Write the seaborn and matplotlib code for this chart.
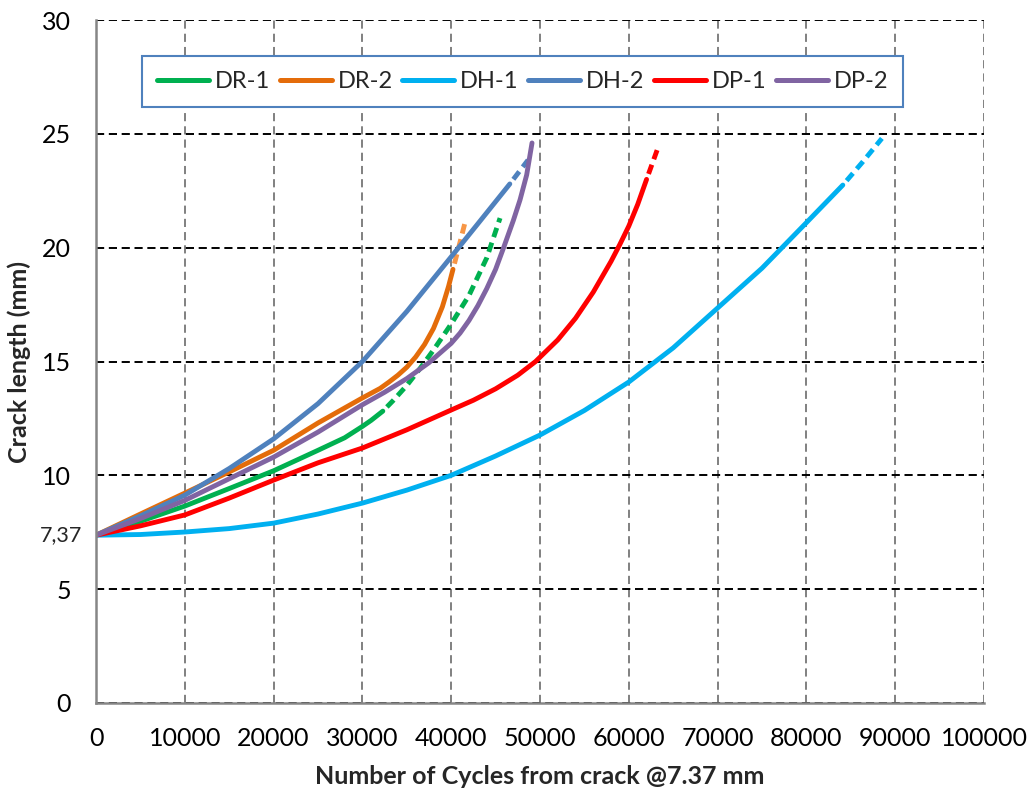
import numpy as np
import pandas as pd
import matplotlib
matplotlib.use('Agg')
import matplotlib.pyplot as plt
from matplotlib.lines import Line2D
from matplotlib.ticker import MultipleLocator
import seaborn as sns

# Crack growth curves (cycles from crack @7.37 mm, crack length mm)
# solid = measured, dashed = extrapolated tail
dr1_x = [0, 5000, 10000, 15000, 20000, 25000, 28000, 30000, 31000, 32300]
dr1_y = [7.37, 7.98, 8.65, 9.42, 10.2, 11.1, 11.65, 12.15, 12.42, 12.82]
dr1_ext_x = [32300, 33500, 35000, 36500, 38000, 40000, 42000, 44000, 45500]
dr1_ext_y = [12.82, 13.3, 13.95, 14.7, 15.5, 16.65, 17.9, 19.55, 21.3]

dr2_x = [0, 5000, 10000, 15000, 20000, 25000, 30000, 32000, 33000, 34000, 35000,
         36000, 37000, 38000, 39000, 39700, 40200]
dr2_y = [7.37, 8.3, 9.22, 10.15, 11.1, 12.3, 13.4, 13.82, 14.1, 14.4, 14.75,
         15.2, 15.75, 16.45, 17.4, 18.3, 19.05]
dr2_ext_x = [40200, 40900, 41650]
dr2_ext_y = [19.05, 20.1, 21.25]

dh1_x = [0, 5000, 10000, 15000, 20000, 25000, 30000, 35000, 40000, 45000, 50000,
         55000, 60000, 65000, 70000, 75000, 80000, 84100]
dh1_y = [7.37, 7.4, 7.51, 7.66, 7.9, 8.3, 8.78, 9.35, 10.0, 10.85, 11.77,
         12.85, 14.1, 15.6, 17.35, 19.1, 21.1, 22.75]
dh1_ext_x = [84100, 86300, 88500]
dh1_ext_y = [22.75, 23.75, 24.8]

dh2_x = [0, 5000, 10000, 15000, 20000, 25000, 30000, 35000, 40000, 43000, 46600]
dh2_y = [7.37, 8.22, 9.13, 10.3, 11.6, 13.15, 15.0, 17.2, 19.6, 21.05, 22.8]
dh2_ext_x = [46600, 48650]
dh2_ext_y = [22.8, 23.85]

dp1_x = [0, 5000, 10000, 15000, 20000, 25000, 30000, 35000, 40000, 42500, 45000,
         47500, 49500, 52000, 54000, 56000, 58000, 59000, 60000, 61000, 62000]
dp1_y = [7.37, 7.78, 8.26, 9.0, 9.79, 10.55, 11.2, 12.0, 12.87, 13.3, 13.8,
         14.4, 15.0, 15.95, 16.9, 18.05, 19.4, 20.15, 20.95, 21.9, 23.0]
dp1_ext_x = [62000, 62600, 63200]
dp1_ext_y = [23.0, 23.65, 24.3]

dp2_x = [0, 5000, 10000, 15000, 20000, 25000, 30000, 32500, 35000, 37500, 40000,
         41000, 42000, 43000, 44000, 45000, 45900, 47000, 47750, 48500, 49100]
dp2_y = [7.37, 8.1, 8.9, 9.85, 10.8, 11.9, 13.1, 13.65, 14.25, 14.95, 15.8,
         16.25, 16.8, 17.45, 18.2, 19.05, 20.0, 21.2, 22.1, 23.2, 24.6]

names = ['DR-1', 'DR-2', 'DH-1', 'DH-2', 'DP-1', 'DP-2']
colors = ['#00B050', '#E46C0A', '#00B0F0', '#4F81BD', '#FF0000', '#8064A2']
ext_colors = ['#00B050', '#F79646', '#00B0F0', '#4F81BD', '#FF0000', '#8064A2']

y_ticks = [0, 5, 10, 15, 20, 25, 30]
crack_start = 7.37
crack_start_label = '7,37'

solid = {'DR-1': (dr1_x, dr1_y), 'DR-2': (dr2_x, dr2_y), 'DH-1': (dh1_x, dh1_y),
         'DH-2': (dh2_x, dh2_y), 'DP-1': (dp1_x, dp1_y), 'DP-2': (dp2_x, dp2_y)}
ext = {'DR-1': (dr1_ext_x, dr1_ext_y), 'DR-2': (dr2_ext_x, dr2_ext_y),
       'DH-1': (dh1_ext_x, dh1_ext_y), 'DH-2': (dh2_ext_x, dh2_ext_y),
       'DP-1': (dp1_ext_x, dp1_ext_y)}

sns.set_style('white')
plt.rcParams['font.family'] = ['Lato', 'DejaVu Sans']

fig = plt.figure(figsize=(10.28, 7.92), dpi=100)
ax = fig.add_axes([0.0934, 0.1124, 0.8638, 0.8623])

lw = 3.5
for name, c, ce in zip(names, colors, ext_colors):
    x, y = solid[name]
    df = pd.DataFrame({'cycles': x, 'length': y})
    sns.lineplot(data=df, x='cycles', y='length', ax=ax, color=c, lw=lw,
                 sort=False, estimator=None, solid_capstyle='round',
                 solid_joinstyle='round')
    if name in ext:
        xe, ye = ext[name]
        dfe = pd.DataFrame({'cycles': xe, 'length': ye})
        sns.lineplot(data=dfe, x='cycles', y='length', ax=ax, color=ce, lw=lw,
                     sort=False, estimator=None)
        # start with a gap so the dashes break away from the solid part
        ax.lines[-1].set_linestyle((2.0, (2.0, 1.2)))

ax.set_xlim(0, 100000)
ax.set_ylim(0, 30)
ax.set_xticks(np.arange(0, 100001, 10000))
ax.set_xticklabels([str(v) for v in range(0, 100001, 10000)])
ax.set_yticks(y_ticks)
ax.set_yticklabels([str(v) for v in y_ticks])
ax.xaxis.set_minor_locator(MultipleLocator(2000))
ax.yaxis.set_minor_locator(MultipleLocator(1))

ax.set_axisbelow(True)
ax.xaxis.grid(True, color='#808080', lw=1.4, linestyle=(0, (4.2, 2.6)))
ax.yaxis.grid(True, color='#000000', lw=1.4, linestyle=(0, (4.2, 2.4)))

for s in ['top', 'right']:
    ax.spines[s].set_visible(False)
for s in ['left', 'bottom']:
    ax.spines[s].set_color('#868686')
    ax.spines[s].set_linewidth(1.8)

ax.tick_params(axis='both', which='major', direction='inout', length=10, width=1.6,
               color='#868686', labelsize=18, labelcolor='black')
ax.tick_params(axis='both', which='minor', direction='in', length=5, width=1.4,
               color='#868686')
ax.tick_params(axis='x', which='major', pad=12)
ax.tick_params(axis='y', which='major', pad=13)

# starting crack length marked on the axis, a bit smaller and closer in
ax.text(-0.016, crack_start, crack_start_label, transform=ax.get_yaxis_transform(),
        ha='right', va='center', fontsize=15.5)

ax.set_xlabel('Number of Cycles from crack @7.37 mm', fontsize=18, fontweight='bold',
              labelpad=11)
ax.set_ylabel('Crack length (mm)', fontsize=18, fontweight='bold', labelpad=8)

handles = [Line2D([], [], color=c, lw=3.6, solid_capstyle='round') for c in colors]
leg = ax.legend(handles, names, loc='upper left', ncol=6, mode='expand',
                bbox_to_anchor=(0.052, 0.947, 0.857, 0.0), borderaxespad=0,
                fontsize=17, frameon=True, fancybox=False, framealpha=1,
                handlelength=2.2, handletextpad=0.25, columnspacing=0.6,
                borderpad=0.62)
leg.get_frame().set_edgecolor('#4F81BD')
leg.get_frame().set_linewidth(1.5)

fig.savefig('out.png', dpi=100)
